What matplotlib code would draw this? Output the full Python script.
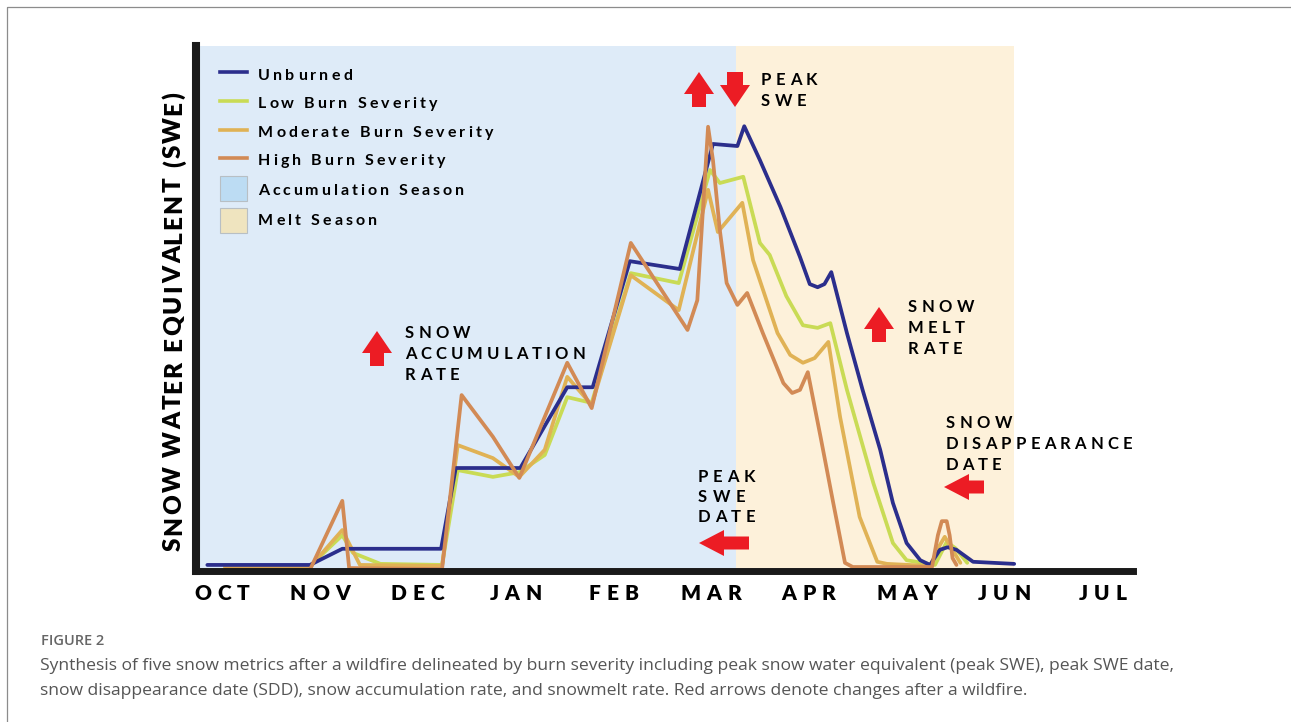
import matplotlib
matplotlib.use("Agg")
import matplotlib.pyplot as plt
import matplotlib.transforms as mtransforms
from matplotlib.patches import Polygon, Rectangle
from matplotlib.lines import Line2D

W, H = 1291, 722
FONT = "Lato"

# months from OCT (0) to JUL (9)
months = ["OCT", "NOV", "DEC", "JAN", "FEB", "MAR", "APR", "MAY", "JUN", "JUL"]

# seasons (month positions)
accum_end = 5.26
melt_end = 8.10

# SWE curves, x in months since 1 Oct, y in relative units (0-100)
unb_x = [-0.15, 0.90, 1.23, 2.24, 2.39, 3.05, 3.53, 3.79, 4.17, 4.68, 5.02, 5.27, 5.34,
         5.50, 5.71, 5.91, 6.01, 6.09, 6.16, 6.23, 6.39, 6.55, 6.73, 6.86, 7.00, 7.14,
         7.24, 7.34, 7.42, 7.51, 7.68, 8.10]
unb_y = [0.4, 0.4, 3.5, 3.5, 19.0, 19.0, 34.5, 34.5, 58.7, 57.2, 81.2, 80.8, 84.6,
         78.1, 69.1, 59.5, 54.3, 53.7, 54.3, 56.6, 44.9, 34.0, 22.5, 12.3, 4.6, 1.3,
         0.4, 3.3, 3.8, 3.3, 1.0, 0.6]

low_x = [0.03, 0.90, 1.23, 1.34, 1.62, 2.25, 2.41, 2.77, 3.04, 3.30, 3.53, 3.78, 4.18,
         4.67, 4.99, 5.09, 5.33, 5.50, 5.60, 5.77, 5.94, 6.09, 6.22, 6.39, 6.66, 6.86,
         7.00, 7.29, 7.41, 7.50, 7.62]
low_y = [0.2, 0.2, 6.1, 2.7, 0.6, 0.4, 18.6, 17.3, 18.2, 21.5, 32.6, 31.5, 56.4,
         54.5, 76.2, 73.7, 74.9, 62.2, 59.9, 52.0, 46.4, 45.9, 46.8, 34.0, 16.1, 4.6,
         1.3, 0.4, 4.8, 3.6, 0.8]

mod_x = [0.03, 0.90, 1.23, 1.41, 2.25, 2.41, 2.77, 3.04, 3.30, 3.53, 3.78, 4.18, 4.67,
         4.97, 5.07, 5.32, 5.43, 5.68, 5.81, 5.94, 6.06, 6.20, 6.32, 6.52, 6.70, 6.80,
         7.24, 7.34, 7.39, 7.46, 7.55]
mod_y = [0.0, 0.0, 7.1, 0.4, 0.2, 23.4, 20.9, 17.3, 22.5, 36.5, 31.1, 56.0, 49.3,
         72.4, 64.3, 69.9, 58.9, 44.9, 40.7, 39.2, 40.1, 43.2, 28.8, 9.6, 1.0, 0.6,
         0.2, 4.2, 5.8, 3.6, 0.8]

high_x = [0.03, 0.90, 1.23, 1.30, 2.25, 2.45, 2.77, 3.04, 3.53, 3.78, 4.18, 4.76, 4.86,
          4.97, 5.02, 5.09, 5.16, 5.27, 5.37, 5.53, 5.74, 5.83, 5.91, 5.99, 6.12, 6.25,
          6.37, 6.45, 7.26, 7.32, 7.36, 7.41, 7.44, 7.47, 7.51]
high_y = [-0.5, -0.5, 12.7, -0.2, -0.4, 33.0, 25.0, 17.1, 39.2, 30.5, 62.2, 45.5, 51.2,
          84.5, 78.1, 64.7, 54.5, 50.3, 52.6, 44.9, 35.3, 33.4, 34.0, 37.4, 25.0, 12.3,
          0.8, 0.0, 0.0, 6.1, 8.8, 8.8, 6.1, 1.7, 0.4]

series = [
    ("Low Burn Severity", low_x, low_y, "#c9db55"),
    ("Moderate Burn Severity", mod_x, mod_y, "#e0b255"),
    ("Unburned", unb_x, unb_y, "#2b2e8c"),
    ("High Burn Severity", high_x, high_y, "#d28a55"),
]

fig = plt.figure(figsize=(W / 100, H / 100), dpi=100)
# image pixel coords (origin top-left) -> display
pix = mtransforms.Affine2D().scale(1, -1).translate(0, H)

ax = fig.add_axes([196 / W, 1 - 570.5 / H, (1133 - 196) / W, (570.5 - 46) / H])
ax.set_xlim(-0.266, 9.315)
ax.set_ylim(-0.67, 100)
ax.axvspan(-0.266, accum_end, color="#deebf8", lw=0, zorder=0)
ax.axvspan(accum_end, melt_end, color="#fdf1da", lw=0, zorder=0)

for name, xs, ys, c in series:
    ax.plot(xs, ys, color=c, lw=2.7, solid_joinstyle="round", solid_capstyle="round")

for s in ["top", "right"]:
    ax.spines[s].set_visible(False)
ax.spines["left"].set_linewidth(5.8)
ax.spines["bottom"].set_linewidth(5.0)
ax.spines["bottom"].set_capstyle("projecting")
ax.spines["left"].set_color("#1a1a1a")
ax.spines["bottom"].set_color("#1a1a1a")
ax.set_xticks([])
ax.set_yticks([])

renderer = fig.canvas.get_renderer()


def spaced(s, x, y, size, width=None, gap=None, rot=0, ha="left", color="black", weight="bold"):
    # one glyph at a time, so the wide letter spacing of the original fits
    def w(t):
        a = fig.text(0, 0, t + "|", fontsize=size, family=FONT, weight=weight)
        b = a.get_window_extent(renderer).width
        a.remove()
        return b
    bar = w("")
    pos = [w(s[:i]) - bar for i in range(len(s))]
    full = w(s) - bar
    if gap is None:
        gap = (width - full) / max(len(s) - 1, 1)
    total = full + gap * (len(s) - 1)
    x0 = x - total / 2 if ha == "center" else x
    for i, ch in enumerate(s):
        if ch == " ":
            continue
        d = pos[i] + i * gap
        if rot == 90:
            fig.text(x, y - d, ch, transform=pix, fontsize=size, family=FONT, weight=weight,
                     color=color, rotation=90, ha="center", va="bottom")
        else:
            fig.text(x0 + d, y, ch, transform=pix, fontsize=size, family=FONT, weight=weight,
                     color=color, ha="left", va="baseline")


def arrow(kind, a, b, length):
    # red block arrows, a/b = tip position in image pixels
    red = "#ec1c24"
    if kind == "up":
        hw, hl, sw = 15, 22, 7
        pts = [(a, b), (a + hw, b + hl), (a + sw, b + hl), (a + sw, b + length),
               (a - sw, b + length), (a - sw, b + hl), (a - hw, b + hl)]
    elif kind == "down":
        hw, hl, sw = 15, 22, 8
        pts = [(a, b), (a + hw, b - hl), (a + sw, b - hl), (a + sw, b - length),
               (a - sw, b - length), (a - sw, b - hl), (a - hw, b - hl)]
    else:
        hw, hl, sw = 13, 25, 6.5
        pts = [(a, b), (a + hl, b - hw), (a + hl, b - sw), (a + length, b - sw),
               (a + length, b + sw), (a + hl, b + sw), (a + hl, b + hw)]
    fig.patches.append(Polygon(pts, closed=True, color=red, lw=0, transform=pix, figure=fig))


# month labels
for i, m in enumerate(months):
    cx = ax.transData.transform((i, 0))[0]
    spaced(m, cx, 600, 15, gap=6, ha="center", weight="heavy")

# y label
spaced("SNOW WATER EQUIVALENT (SWE)", 174, 551, 17.5, width=459, rot=90, weight="heavy")

# legend (drawn by hand to keep the letter spacing)
leg_lines = [("Unburned", "#2b2e8c", 72, 80, 94),
             ("Low Burn Severity", "#c9db55", 101, 108, 179),
             ("Moderate Burn Severity", "#e0b255", 130, 137, 235),
             ("High Burn Severity", "#d28a55", 158, 165, 187)]
for label, c, ly, base, wd in leg_lines:
    fig.lines.append(Line2D([220, 247], [ly, ly], color=c, lw=2.6, transform=pix, figure=fig))
    spaced(label, 258, base, 11.5, width=wd)
leg_boxes = [("Accumulation Season", "#bcdcf3", 176, 195, 206),
             ("Melt Season", "#efe4bf", 208, 225, 119)]
for label, c, top, base, wd in leg_boxes:
    fig.patches.append(Rectangle((219.5, top), 27, 25, facecolor=c, edgecolor="#b8bfc4",
                                 lw=0.8, transform=pix, figure=fig))
    spaced(label, 258, base, 11.5, width=wd)

# annotations
notes = [
    (["SNOW", "ACCUMULATION", "RATE"], 405, [338, 359, 380], [65, 180, 54]),
    (["PEAK", "SWE"], 761, [85, 106], [56, 45]),
    (["SNOW", "MELT", "RATE"], 908, [312, 333, 354], [66, 57, 54]),
    (["PEAK", "SWE", "DATE"], 698, [482, 502, 522], [57, 47, 57]),
    (["SNOW", "DISAPPEARANCE", "DATE"], 946, [428, 449, 470], [66, 186, 55]),
]
for words, x, bases, wds in notes:
    for wd_txt, base, wd in zip(words, bases, wds):
        spaced(wd_txt, x, base, 12, width=wd)

arrow("up", 377, 331, 35)
arrow("up", 699, 72, 35)
arrow("down", 735, 107, 35)
arrow("up", 879, 307, 35)
arrow("left", 699, 543, 50)
arrow("left", 944, 487, 40)

# frame and caption
fig.patches.append(Rectangle((7, 7), W, H, fill=False, edgecolor="#8c8c8c", lw=0.9,
                             transform=pix, figure=fig))
fig.text(41, 645, "FIGURE 2", transform=pix, fontsize=10.5, family="Open Sans",
         weight="semibold", color="#666666", va="baseline")
fig.text(40, 670, "Synthesis of five snow metrics after a wildfire delineated by burn severity "
         "including peak snow water equivalent (peak SWE), peak SWE date,",
         transform=pix, fontsize=12.6, family="Open Sans", color="#555555", va="baseline")
fig.text(40, 695, "snow disappearance date (SDD), snow accumulation rate, and snowmelt rate. "
         "Red arrows denote changes after a wildfire.",
         transform=pix, fontsize=12.6, family="Open Sans", color="#555555", va="baseline")

fig.savefig("out.png", dpi=100, facecolor="white")
